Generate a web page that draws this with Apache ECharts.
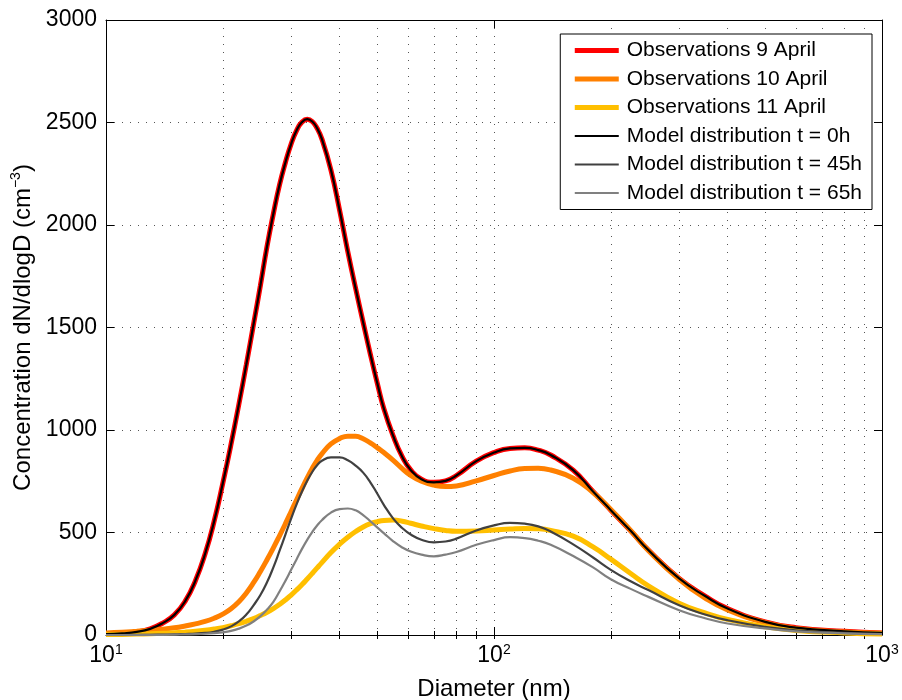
<!DOCTYPE html>
<html>
<head>
<meta charset="utf-8">
<title>Size distributions</title>
<script src="https://cdn.jsdelivr.net/npm/echarts@6/dist/echarts.min.js"></script>
<style>
  html, body { margin: 0; padding: 0; background: #fff; }
  #chart { width: 902px; height: 700px; }
</style>
</head>
<body>
<div id="chart"></div>
<script>
const diameters = [10, 11, 12, 13, 14, 15, 16, 17, 18, 19, 20, 21, 22, 23, 24, 25, 26, 27, 28, 29,
    30, 31, 32, 33, 34, 35, 36, 38, 40, 42, 44, 46, 48, 50, 52, 55, 58, 61, 65, 70,
    75, 80, 90, 100, 110, 120, 130, 140, 160, 180, 200, 225, 250, 300, 350, 400, 500, 600, 800, 1000];

const obs9 = [4, 8, 15, 30, 58, 98, 165, 265, 395, 555, 740, 930, 1125, 1320, 1515, 1705, 1895, 2055, 2195, 2305,
    2395, 2462, 2502, 2516, 2505, 2472, 2420, 2268, 2072, 1870, 1690, 1525, 1370, 1230, 1105, 970, 870, 805, 760, 745,
    752, 778, 848, 890, 910, 913, 902, 878, 804, 700, 609, 508, 414, 276, 190, 129, 64, 36, 18, 10];

const obs10 = [10, 13, 18, 23, 28, 35, 44, 54, 66, 82, 102, 128, 162, 205, 255, 310, 367, 425, 484, 543,
    602, 660, 715, 766, 812, 852, 884, 932, 958, 970, 969, 957, 937, 914, 890, 852, 812, 778, 750, 731,
    724, 727, 752, 778, 800, 812, 814, 805, 765, 695, 612, 510, 412, 272, 180, 122, 60, 32, 15, 9];

const obs11 = [2, 3, 5, 6, 8, 11, 14, 18, 23, 29, 36, 45, 55, 67, 80, 95, 111, 129, 149, 171,
    195, 220, 246, 273, 300, 327, 353, 402, 443, 477, 505, 527, 543, 553, 559, 561, 555, 545, 532, 519,
    510, 506, 507, 512, 517, 520, 518, 510, 482, 430, 370, 300, 240, 155, 108, 76, 40, 22, 10, 5];

const model0 = [4, 8, 15, 30, 58, 98, 165, 265, 395, 555, 740, 930, 1125, 1320, 1515, 1705, 1895, 2055, 2195, 2305,
    2395, 2462, 2502, 2516, 2505, 2472, 2420, 2268, 2072, 1870, 1690, 1525, 1370, 1230, 1105, 970, 870, 805, 760, 745,
    752, 778, 848, 890, 910, 913, 902, 878, 804, 700, 609, 508, 414, 276, 190, 129, 64, 36, 18, 10];

const model45 = [0, 0, 1, 1, 2, 3, 5, 7, 10, 16, 26, 42, 66, 100, 145, 195, 257, 330, 410, 490,
    568, 638, 700, 752, 795, 828, 850, 866, 866, 852, 826, 792, 745, 690, 635, 568, 522, 490, 465, 452,
    456, 470, 510, 535, 547, 543, 530, 505, 442, 378, 318, 262, 219, 145, 100, 72, 40, 23, 10, 5];

const model65 = [0, 0, 0, 1, 1, 2, 3, 4, 6, 9, 13, 20, 31, 46, 66, 92, 124, 162, 212, 264,
    318, 370, 420, 464, 502, 534, 560, 597, 614, 617, 608, 585, 555, 525, 497, 457, 427, 407, 392, 384,
    392, 405, 440, 463, 477, 473, 460, 440, 385, 330, 272, 225, 186, 121, 82, 56, 32, 18, 8, 4];

const seriesNames = ['Observations 9 April', 'Observations 10 April', 'Observations 11 April',
    'Model distribution t = 0h', 'Model distribution t = 45h', 'Model distribution t = 65h'];
const seriesValues = [obs9, obs10, obs11, model0, model45, model65];
const seriesColors = ['#ff0000', '#ff8000', '#ffbf00', '#000000', '#404040', '#808080'];
const seriesWidths = [5, 5, 5, 2.2, 2.2, 2.2];

const xMajor = [10, 100, 1000];
const xMinor = [20, 30, 40, 50, 60, 70, 80, 90, 100, 200, 300, 400, 500, 600, 700, 800, 900];

const font = "'Liberation Sans', Arial, sans-serif";
const dotted = { color: '#555', width: 1, type: [1, 7] };
const black = { color: '#000', width: 1 };

const chart = echarts.init(document.getElementById('chart'));

const xBase = { type: 'log', logBase: 10, min: 10, max: 1000, gridIndex: 0 };
const yBase = { type: 'value', min: 0, max: 3000, interval: 500, gridIndex: 0 };

const option = {
    backgroundColor: '#fff',
    animation: false,
    textStyle: { fontFamily: font },
    grid: { left: 106, right: 20, top: 20, bottom: 65, containLabel: false, outerBoundsMode: 'none' },
    legend: {
        orient: 'vertical',
        right: 30,
        top: 34,
        itemWidth: 44,
        itemHeight: 14,
        itemGap: 7.5,
        backgroundColor: '#fff',
        borderColor: '#000',
        borderWidth: 1,
        borderRadius: 0,
        padding: [6, 10, 6, 12],
        textStyle: { fontSize: 21, lineHeight: 20, color: '#000', fontFamily: font, padding: [0, 0, 0, 3] },
        data: seriesNames.map((name, k) => ({
            name: name,
            itemStyle: { opacity: 0 },
            lineStyle: { width: seriesWidths[k], color: seriesColors[k] }
        }))
    },
    xAxis: [
        {
            ...xBase,
            position: 'bottom',
            axisLine: { show: true, onZero: false, lineStyle: black },
            axisTick: { show: true, inside: true, length: 8, customValues: xMajor, lineStyle: black },
            axisLabel: {
                show: true,
                customValues: xMajor,
                margin: 8,
                formatter: v => '{b|10}{s|' + Math.round(Math.log10(v)) + '}',
                rich: {
                    b: { fontSize: 23, color: '#000', fontFamily: font, lineHeight: 26 },
                    s: { fontSize: 14, color: '#000', fontFamily: font, verticalAlign: 'top', lineHeight: 26 }
                }
            },
            splitLine: { show: false },
            name: 'Diameter (nm)',
            nameLocation: 'middle',
            nameGap: 42,
            nameTextStyle: { fontSize: 24, color: '#000', fontFamily: font }
        },
        {
            ...xBase,
            position: 'bottom',
            axisLine: { show: false },
            axisTick: { show: true, inside: true, length: 4, customValues: xMinor, lineStyle: black },
            axisLabel: { show: false },
            splitLine: { show: true, lineStyle: dotted }
        },
        {
            ...xBase,
            position: 'top',
            axisLine: { show: true, onZero: false, lineStyle: black },
            axisTick: { show: true, inside: true, length: 8, customValues: xMajor, lineStyle: black },
            axisLabel: { show: false },
            splitLine: { show: false }
        },
        {
            ...xBase,
            position: 'top',
            axisLine: { show: false },
            axisTick: { show: true, inside: true, length: 4, customValues: xMinor, lineStyle: black },
            axisLabel: { show: false },
            splitLine: { show: false }
        }
    ],
    yAxis: [
        {
            ...yBase,
            position: 'left',
            axisLine: { show: true, onZero: false, lineStyle: black },
            axisTick: { show: true, inside: true, length: 8, lineStyle: black },
            axisLabel: { fontSize: 23, color: '#000', margin: 9, fontFamily: font, formatter: v => String(v) },
            splitLine: { show: true, lineStyle: dotted },
            name: '{a|Concentration dN/dlogD (cm}{s|−3}{a|)}',
            nameLocation: 'middle',
            nameGap: 65,
            nameRotate: 90,
            nameTextStyle: {
                rich: {
                    a: { fontSize: 24, color: '#000', fontFamily: font, lineHeight: 28 },
                    s: { fontSize: 14, color: '#000', fontFamily: font, verticalAlign: 'top', lineHeight: 28 }
                }
            }
        },
        {
            ...yBase,
            position: 'right',
            axisLine: { show: true, onZero: false, lineStyle: black },
            axisTick: { show: true, inside: true, length: 8, lineStyle: black },
            axisLabel: { show: false },
            splitLine: { show: false }
        }
    ],
    series: seriesNames.map((name, k) => ({
        name: name,
        type: 'line',
        xAxisIndex: 0,
        yAxisIndex: 0,
        smooth: 0.5,
        symbol: 'none',
        showSymbol: false,
        color: seriesColors[k],
        lineStyle: { color: seriesColors[k], width: seriesWidths[k] },
        z: 2 + k,
        data: diameters.map((d, i) => [d, seriesValues[k][i]])
    }))
};

chart.setOption(option);
</script>
</body>
</html>
